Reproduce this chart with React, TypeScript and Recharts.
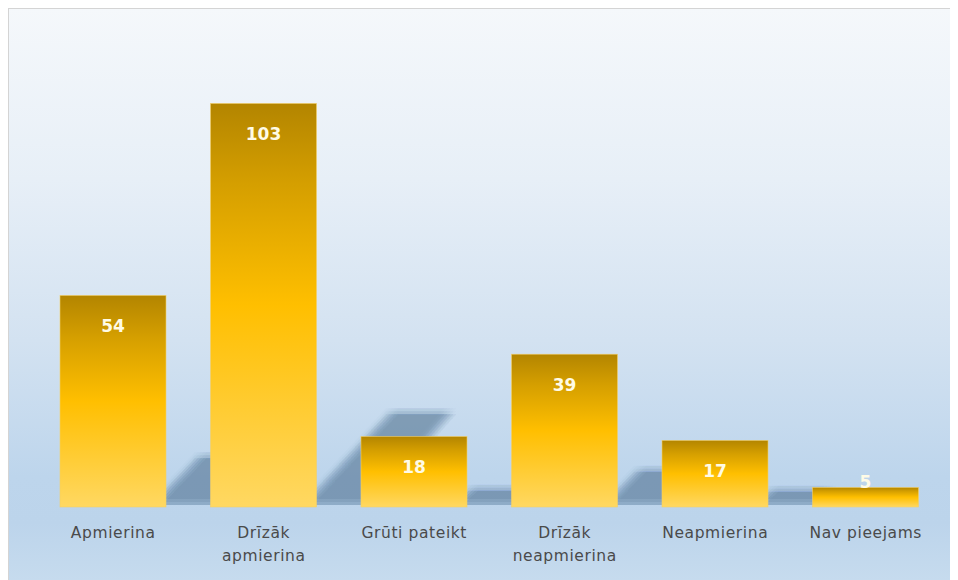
import { Bar, BarChart, LabelList, XAxis, YAxis } from "recharts";

const KATEGORIJAS = [
  "Apmierina",
  "Drīzāk apmierina",
  "Grūti pateikt",
  "Drīzāk neapmierina",
  "Neapmierina",
  "Nav pieejams",
];
const SKAITS = [54, 103, 18, 39, 17, 5];

const data = KATEGORIJAS.map((k, i) => ({ kat: k, skaits: SKAITS[i] }));

// nobīdes ēnas "izpludināšanai" (filtri netiek renderēti)
const NOBIDES = [-6, -3, 0, 3, 6];

// stabiņš + perspektīvā ēna pa labi uz augšu (zīmēta pirms nākamā stabiņa)
function StabinsArEnu(props: any) {
  const { x, y, width, height } = props;
  const b = y + height;
  const sh = height * 0.23;
  const x0 = x + width - 10;
  const pts = [
    [x0, b - 2],
    [x0 + width * 0.6, b - 2],
    [x0 + sh * 0.92 + width * 0.55, b - sh],
    [x0 + sh * 0.92, b - sh],
  ]
    .map((p) => p.join(","))
    .join(" ");
  return (
    <g>
      {height > 30 &&
        NOBIDES.flatMap((dx) =>
          NOBIDES.map((dy) => (
            <polygon
              key={`${dx}_${dy}`}
              points={pts}
              transform={`translate(${dx},${Math.min(dy, 0)})`}
              fill="#587393"
              opacity={0.026}
            />
          ))
        )}
      <rect x={x} y={y} width={width} height={height} fill="url(#zeltaGrad)" stroke="#f2cf6a" strokeWidth={0.6} />
    </g>
  );
}

function VertibasLabel(props: any) {
  const { x, y, width, height, value } = props;
  const ty = height > 40 ? y + 37 : y + 1;
  return (
    <text
      x={x + width / 2}
      y={ty}
      textAnchor="middle"
      fill="#fffbe6"
      fontFamily="'DejaVu Sans', Verdana, sans-serif"
      fontWeight="bold"
      fontSize={17}
    >
      {value}
    </text>
  );
}

function KatTick({ x, y, payload }: any) {
  const words: string[] = String(payload.value).split(" ");
  const lines =
    payload.value === "Grūti pateikt" || payload.value === "Nav pieejams"
      ? [payload.value]
      : words;
  return (
    <text
      x={x}
      y={y}
      textAnchor="middle"
      fill="#4a4a4a"
      fontFamily="'DejaVu Sans', Verdana, sans-serif"
      fontSize={15.5}
      letterSpacing={0.6}
    >
      {lines.map((l, i) => (
        <tspan key={i} x={x} dy={23}>
          {l}
        </tspan>
      ))}
    </text>
  );
}

export default function App() {
  return (
    <div
      style={{
        width: 950,
        height: 572,
        background:
          "linear-gradient(to bottom, #f5f8fb 0%, #e7eff7 30%, #d3e2f1 58%, #bdd5ec 82%, #bcd4eb 90%, #c6dbee 100%)",
        boxShadow: "inset 1px 1px 0 #d4d4d4",
      }}
    >
      <BarChart
        width={950}
        height={572}
        data={data}
        margin={{ top: 68, right: 17, bottom: 13, left: 30 }}
      >
        <defs>
          <linearGradient id="zeltaGrad" x1="0" y1="0" x2="0" y2="1">
            <stop offset="0%" stopColor="#b38500" />
            <stop offset="20%" stopColor="#d59f00" />
            <stop offset="50%" stopColor="#ffbf00" />
            <stop offset="100%" stopColor="#ffd862" />
          </linearGradient>
        </defs>
        <XAxis
          dataKey="kat"
          axisLine={false}
          tickLine={false}
          height={60}
          interval={0}
          tick={<KatTick />}
        />
        <YAxis hide domain={[0, 110]} />
        <Bar
          dataKey="skaits"
          barSize={106}
          shape={<StabinsArEnu />}
          isAnimationActive={false}
        >
          <LabelList dataKey="skaits" content={<VertibasLabel />} />
        </Bar>
      </BarChart>
    </div>
  );
}
